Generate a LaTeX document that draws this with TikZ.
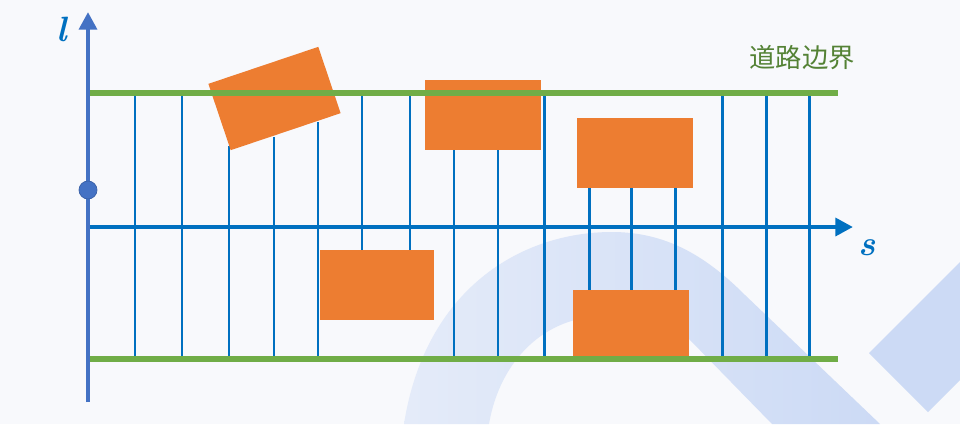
\documentclass[tikz,border=0pt]{standalone}
\usepackage{fontspec}
\newfontfamily\cjk{Noto Sans CJK SC}
\usetikzlibrary{arrows.meta}
\definecolor{axisblue}{RGB}{68,114,196}
\definecolor{lineblue}{RGB}{0,112,192}
\definecolor{bndgreen}{RGB}{112,173,71}
\definecolor{txtgreen}{RGB}{84,130,53}
\definecolor{obsorange}{RGB}{237,125,49}
\definecolor{bgwhite}{RGB}{248,249,252}
\definecolor{wmblue}{RGB}{204,218,245}

\begin{document}
\begin{tikzpicture}[x=0.02cm,y=-0.02cm,
  obs/.style={rectangle,fill=obsorange,inner sep=0pt,minimum width=2.32cm,minimum height=1.4cm},
  bnd/.style={bndgreen,line width=3.4pt},
  sline/.style={lineblue,line width=1.7pt},
  axisarr/.style={line width=2.8pt,-{Triangle[width=10pt,length=10pt]}},
  lbl/.style={lineblue,font=\fontsize{20}{20}\selectfont\bfseries\itshape}]
  % background and watermark
  \fill[bgwhite](0,0) rectangle (960,424);
  \begin{scope}
    \clip(0,0) rectangle (960,424);
    \shade[left color=wmblue!45!bgwhite,right color=wmblue](404,424) .. controls (425,290) and (520,232) .. (612,232)
      .. controls (665,232) and (705,255) .. (745,295) -- (880,424) -- (772,424) -- (690,340)
      .. controls (665,322) and (635,316) .. (605,316) .. controls (545,316) and (500,360) .. (489,424) -- cycle;
    \fill[wmblue](869,353) -- (928,412) -- (1040,300) -- (981,241) -- cycle;
  \end{scope}
  % sample lines
  \foreach \x/\ya/\yb in {135/93/359,182/93/359,229/146/359,274/137/359,318/122/359,362/93/250,
    410/93/250,454/150/359,498/150/359,544/93/359,589/188/290,631/188/290,675/188/290,
    722/93/359,766/93/359,809/93/359}
    \draw[sline](\x,\ya)--(\x,\yb);
  % obstacles
  \node[obs,rotate=18.6](obs1) at (274.5,98.5){};
  \node[obs](obs2) at (483,115){};
  \node[obs](obs3) at (635,152.5){};
  \node[obs,minimum width=2.28cm](obs4) at (377,285){};
  \node[obs,minimum height=1.34cm](obs5) at (631,323.5){};
  % road boundaries
  \coordinate(tl) at (88,93); \coordinate(tr) at (838,93);
  \coordinate(bl) at (88,359); \coordinate(br) at (838,359);
  \draw[bnd](tl)--(tr);
  \draw[bnd](bl)--(br);
  \node[txtgreen,font=\cjk\fontsize{15}{18}\selectfont](bndlbl) at (802,58){道路边界};
  % axes
  \coordinate(lbot) at (88,402); \coordinate(ltop) at (88,12);
  \coordinate(sbeg) at (88,227); \coordinate(send) at (853,227);
  \draw[axisarr,lineblue](sbeg)--(send);
  \draw[axisarr,axisblue](lbot)--(ltop);
  \node[lbl](llbl) at (62,29){l};
  \node[lbl](slbl) at (867,248){s};
  \node[circle,fill=axisblue,draw=axisblue!85!black,line width=0.4pt,minimum size=0.36cm,inner sep=0pt](pt) at (88,190){};
\end{tikzpicture}
\end{document}
